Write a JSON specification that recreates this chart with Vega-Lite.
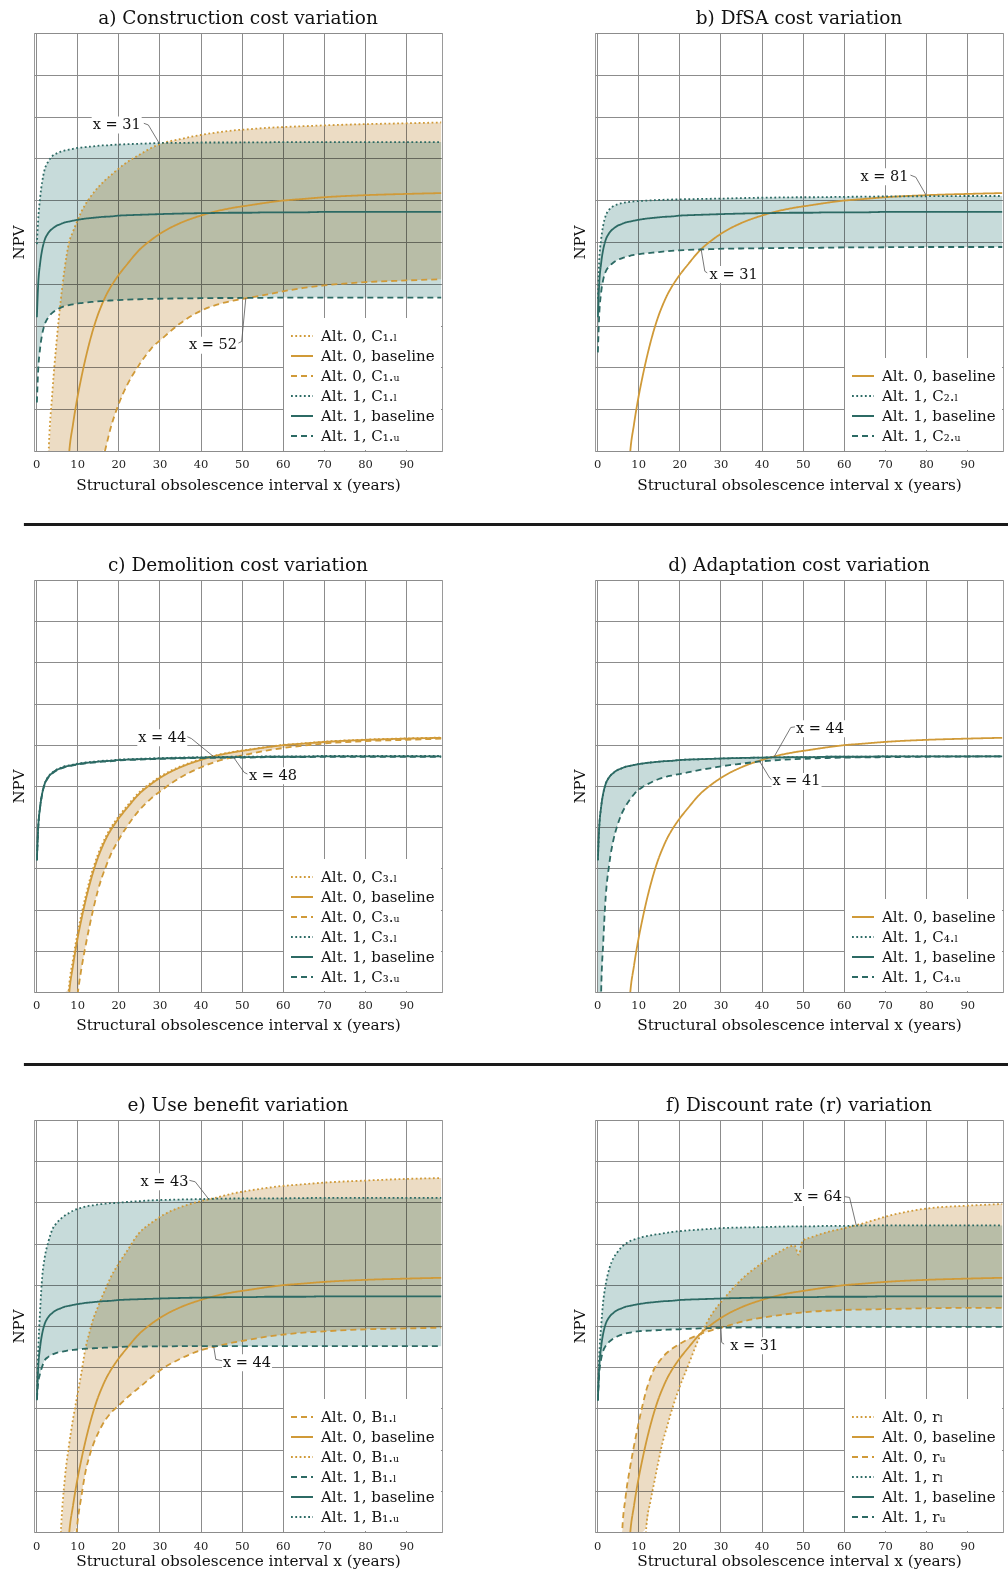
{
"$schema": "https://vega.github.io/schema/vega-lite/v6.json",
"padding": {"left": 10, "top": 8, "right": 0, "bottom": 0},
"background": "white",
"spacing": 29,
"config": {
 "font": "DejaVu Serif",
 "view": {"stroke": "#9a9a9a", "strokeWidth": 1},
 "title": {"font": "DejaVu Serif", "fontSize": 18.5, "fontWeight": "normal", "color": "#111", "offset": 6},
 "axis": {"labelFont": "DejaVu Serif", "titleFont": "DejaVu Serif", "titleFontWeight": "normal", "gridColor": "#8c8c8c", "gridWidth": 1, "domain": false, "ticks": false, "labelColor": "#222", "titleColor": "#111"},
 "axisX": {"labelFontSize": 11.5, "titleFontSize": 15.3, "labelFlush": false},
 "axisY": {"titleFontSize": 15, "titlePadding": 8},
 "legend": {"orient": "bottom-right", "offset": 1, "fillColor": "white", "padding": 6, "labelFont": "DejaVu Serif", "labelFontSize": 15, "labelColor": "#111", "symbolStrokeWidth": 2, "symbolSize": 484, "symbolType": "stroke", "rowPadding": -2, "labelOffset": 7, "labelLimit": 300}
},
"resolve": {"scale": {"color": "independent", "strokeDash": "independent"}},
"datasets": {
 "sep": [{"a": -0.0102, "b": 1.01}],
 "a": [
  {"x":0.2,"o1":-20,"o2":-40,"o3":-60,"t1":4.95,"t2":3.2,"t3":1.16},
  {"x":0.5,"o1":-16,"o2":-38,"o3":-55,"t1":5.5,"t2":3.95,"t3":1.9},
  {"x":1,"o1":-11,"o2":-35,"o3":-50,"t1":6.07,"t2":4.5,"t3":2.47},
  {"x":1.5,"o1":-7.5,"o2":-30,"o3":-45,"t1":6.45,"t2":4.82,"t3":2.8},
  {"x":2,"o1":-4.5,"o2":-25,"o3":-40,"t1":6.7,"t2":5.02,"t3":3.0},
  {"x":3,"o1":-0.2,"o2":-16,"o3":-32,"t1":6.93,"t2":5.22,"t3":3.2},
  {"x":4,"o1":1.45,"o2":-10,"o3":-25,"t1":7.06,"t2":5.32,"t3":3.31},
  {"x":5,"o1":2.63,"o2":-6.5,"o3":-20,"t1":7.12,"t2":5.39,"t3":3.38},
  {"x":6,"o1":3.6,"o2":-4,"o3":-15.5,"t1":7.16,"t2":5.43,"t3":3.43},
  {"x":7,"o1":4.4,"o2":-1.9,"o3":-12,"t1":7.19,"t2":5.47,"t3":3.47},
  {"x":8,"o1":4.98,"o2":-0.1,"o3":-9.5,"t1":7.21,"t2":5.49,"t3":3.49},
  {"x":9,"o1":5.25,"o2":0.65,"o3":-7.5,"t1":7.23,"t2":5.51,"t3":3.51},
  {"x":10,"o1":5.5,"o2":1.25,"o3":-5.8,"t1":7.25,"t2":5.53,"t3":3.53},
  {"x":11,"o1":5.72,"o2":1.75,"o3":-4.4,"t1":7.26,"t2":5.545,"t3":3.54},
  {"x":12,"o1":5.9,"o2":2.2,"o3":-3.2,"t1":7.27,"t2":5.56,"t3":3.55},
  {"x":13,"o1":6.05,"o2":2.6,"o3":-2.3,"t1":7.28,"t2":5.57,"t3":3.56},
  {"x":14,"o1":6.18,"o2":2.95,"o3":-1.5,"t1":7.29,"t2":5.58,"t3":3.57},
  {"x":15,"o1":6.3,"o2":3.25,"o3":-0.85,"t1":7.3,"t2":5.59,"t3":3.58},
  {"x":16,"o1":6.4,"o2":3.5,"o3":-0.3,"t1":7.31,"t2":5.6,"t3":3.585},
  {"x":17,"o1":6.5,"o2":3.72,"o3":0.1,"t1":7.31,"t2":5.605,"t3":3.59},
  {"x":18,"o1":6.58,"o2":3.9,"o3":0.5,"t1":7.32,"t2":5.61,"t3":3.6},
  {"x":20,"o1":6.75,"o2":4.2,"o3":1.1,"t1":7.33,"t2":5.63,"t3":3.61},
  {"x":22,"o1":6.9,"o2":4.45,"o3":1.55,"t1":7.34,"t2":5.64,"t3":3.62},
  {"x":25,"o1":7.08,"o2":4.8,"o3":2.05,"t1":7.35,"t2":5.65,"t3":3.63},
  {"x":28,"o1":7.25,"o2":5.05,"o3":2.45,"t1":7.36,"t2":5.66,"t3":3.64},
  {"x":31,"o1":7.37,"o2":5.25,"o3":2.72,"t1":7.37,"t2":5.67,"t3":3.645},
  {"x":35,"o1":7.46,"o2":5.45,"o3":3.05,"t1":7.37,"t2":5.68,"t3":3.65},
  {"x":40,"o1":7.56,"o2":5.63,"o3":3.35,"t1":7.38,"t2":5.69,"t3":3.655},
  {"x":44,"o1":7.62,"o2":5.74,"o3":3.5,"t1":7.38,"t2":5.695,"t3":3.66},
  {"x":48,"o1":7.67,"o2":5.82,"o3":3.6,"t1":7.38,"t2":5.7,"t3":3.66},
  {"x":52,"o1":7.7,"o2":5.88,"o3":3.67,"t1":7.385,"t2":5.7,"t3":3.665},
  {"x":56,"o1":7.73,"o2":5.94,"o3":3.74,"t1":7.385,"t2":5.71,"t3":3.665},
  {"x":60,"o1":7.75,"o2":5.99,"o3":3.82,"t1":7.39,"t2":5.71,"t3":3.67},
  {"x":65,"o1":7.77,"o2":6.03,"o3":3.9,"t1":7.39,"t2":5.71,"t3":3.67},
  {"x":70,"o1":7.79,"o2":6.07,"o3":3.96,"t1":7.39,"t2":5.72,"t3":3.67},
  {"x":80,"o1":7.82,"o2":6.12,"o3":4.04,"t1":7.39,"t2":5.72,"t3":3.67},
  {"x":90,"o1":7.84,"o2":6.15,"o3":4.08,"t1":7.39,"t2":5.72,"t3":3.67},
  {"x":98.5,"o1":7.86,"o2":6.17,"o3":4.11,"t1":7.39,"t2":5.72,"t3":3.67}
 ],
 "b": [
  {"x":0.2,"o2":-40,"t1":3.64,"t2":3.2,"t3":2.36},
  {"x":0.5,"o2":-38,"t1":4.5,"t2":3.95,"t3":3.2},
  {"x":1,"o2":-35,"t1":5.07,"t2":4.5,"t3":3.8},
  {"x":1.5,"o2":-30,"t1":5.4,"t2":4.82,"t3":4.1},
  {"x":2,"o2":-25,"t1":5.6,"t2":5.02,"t3":4.27},
  {"x":3,"o2":-16,"t1":5.78,"t2":5.22,"t3":4.42},
  {"x":4,"o2":-10,"t1":5.86,"t2":5.32,"t3":4.51},
  {"x":5,"o2":-6.5,"t1":5.9,"t2":5.39,"t3":4.57},
  {"x":6,"o2":-4,"t1":5.93,"t2":5.43,"t3":4.61},
  {"x":7,"o2":-1.9,"t1":5.95,"t2":5.47,"t3":4.64},
  {"x":8,"o2":-0.1,"t1":5.96,"t2":5.49,"t3":4.67},
  {"x":9,"o2":0.65,"t1":5.97,"t2":5.51,"t3":4.69},
  {"x":10,"o2":1.25,"t1":5.98,"t2":5.53,"t3":4.71},
  {"x":11,"o2":1.75,"t1":5.985,"t2":5.545,"t3":4.72},
  {"x":12,"o2":2.2,"t1":5.99,"t2":5.56,"t3":4.73},
  {"x":13,"o2":2.6,"t1":5.995,"t2":5.57,"t3":4.74},
  {"x":14,"o2":2.95,"t1":6.0,"t2":5.58,"t3":4.75},
  {"x":15,"o2":3.25,"t1":6.005,"t2":5.59,"t3":4.76},
  {"x":16,"o2":3.5,"t1":6.01,"t2":5.6,"t3":4.77},
  {"x":17,"o2":3.72,"t1":6.012,"t2":5.605,"t3":4.78},
  {"x":18,"o2":3.9,"t1":6.015,"t2":5.61,"t3":4.79},
  {"x":20,"o2":4.2,"t1":6.02,"t2":5.63,"t3":4.8},
  {"x":22,"o2":4.45,"t1":6.025,"t2":5.64,"t3":4.81},
  {"x":25,"o2":4.8,"t1":6.03,"t2":5.65,"t3":4.82},
  {"x":28,"o2":5.05,"t1":6.035,"t2":5.66,"t3":4.83},
  {"x":31,"o2":5.25,"t1":6.04,"t2":5.67,"t3":4.84},
  {"x":35,"o2":5.45,"t1":6.05,"t2":5.68,"t3":4.845},
  {"x":40,"o2":5.63,"t1":6.06,"t2":5.69,"t3":4.85},
  {"x":44,"o2":5.74,"t1":6.065,"t2":5.695,"t3":4.855},
  {"x":48,"o2":5.82,"t1":6.07,"t2":5.7,"t3":4.86},
  {"x":52,"o2":5.88,"t1":6.07,"t2":5.7,"t3":4.86},
  {"x":56,"o2":5.94,"t1":6.075,"t2":5.71,"t3":4.865},
  {"x":60,"o2":5.99,"t1":6.08,"t2":5.71,"t3":4.87},
  {"x":65,"o2":6.03,"t1":6.085,"t2":5.71,"t3":4.87},
  {"x":70,"o2":6.07,"t1":6.09,"t2":5.72,"t3":4.875},
  {"x":80,"o2":6.12,"t1":6.095,"t2":5.72,"t3":4.88},
  {"x":90,"o2":6.15,"t1":6.1,"t2":5.72,"t3":4.88},
  {"x":98.5,"o2":6.17,"t1":6.1,"t2":5.72,"t3":4.88}
 ],
 "c": [
  {"x":0.2,"o1":-39,"o2":-40,"o3":-60,"t1":3.21,"t2":3.2,"t3":3.19},
  {"x":0.5,"o1":-37,"o2":-38,"o3":-55,"t1":3.96,"t2":3.95,"t3":3.94},
  {"x":1,"o1":-34,"o2":-35,"o3":-50,"t1":4.51,"t2":4.5,"t3":4.49},
  {"x":1.5,"o1":-29,"o2":-30,"o3":-42,"t1":4.83,"t2":4.82,"t3":4.81},
  {"x":2,"o1":-24,"o2":-25,"o3":-36,"t1":5.03,"t2":5.02,"t3":5.01},
  {"x":3,"o1":-15,"o2":-16,"o3":-26,"t1":5.23,"t2":5.22,"t3":5.21},
  {"x":4,"o1":-9.5,"o2":-10,"o3":-18,"t1":5.33,"t2":5.32,"t3":5.31},
  {"x":5,"o1":-6,"o2":-6.5,"o3":-12,"t1":5.4,"t2":5.39,"t3":5.38},
  {"x":6,"o1":-3.6,"o2":-4,"o3":-8,"t1":5.44,"t2":5.43,"t3":5.42},
  {"x":7,"o1":-1.6,"o2":-1.9,"o3":-5,"t1":5.48,"t2":5.47,"t3":5.46},
  {"x":8,"o1":0.1,"o2":-0.1,"o3":-2.8,"t1":5.5,"t2":5.49,"t3":5.48},
  {"x":9,"o1":0.8,"o2":0.65,"o3":-1.2,"t1":5.52,"t2":5.51,"t3":5.5},
  {"x":10,"o1":1.38,"o2":1.25,"o3":-0.15,"t1":5.54,"t2":5.53,"t3":5.52},
  {"x":11,"o1":1.87,"o2":1.75,"o3":0.55,"t1":5.555,"t2":5.545,"t3":5.535},
  {"x":12,"o1":2.3,"o2":2.2,"o3":1.1,"t1":5.57,"t2":5.56,"t3":5.55},
  {"x":13,"o1":2.7,"o2":2.6,"o3":1.6,"t1":5.58,"t2":5.57,"t3":5.56},
  {"x":14,"o1":3.04,"o2":2.95,"o3":2.05,"t1":5.59,"t2":5.58,"t3":5.57},
  {"x":15,"o1":3.33,"o2":3.25,"o3":2.45,"t1":5.6,"t2":5.59,"t3":5.58},
  {"x":16,"o1":3.57,"o2":3.5,"o3":2.78,"t1":5.61,"t2":5.6,"t3":5.59},
  {"x":17,"o1":3.78,"o2":3.72,"o3":3.05,"t1":5.615,"t2":5.605,"t3":5.595},
  {"x":18,"o1":3.96,"o2":3.9,"o3":3.3,"t1":5.62,"t2":5.61,"t3":5.6},
  {"x":20,"o1":4.25,"o2":4.2,"o3":3.68,"t1":5.64,"t2":5.63,"t3":5.62},
  {"x":22,"o1":4.5,"o2":4.45,"o3":4.0,"t1":5.65,"t2":5.64,"t3":5.63},
  {"x":25,"o1":4.84,"o2":4.8,"o3":4.4,"t1":5.66,"t2":5.65,"t3":5.64},
  {"x":28,"o1":5.08,"o2":5.05,"o3":4.7,"t1":5.67,"t2":5.66,"t3":5.65},
  {"x":31,"o1":5.28,"o2":5.25,"o3":4.93,"t1":5.68,"t2":5.67,"t3":5.66},
  {"x":35,"o1":5.47,"o2":5.45,"o3":5.2,"t1":5.69,"t2":5.68,"t3":5.67},
  {"x":40,"o1":5.65,"o2":5.63,"o3":5.45,"t1":5.7,"t2":5.69,"t3":5.68},
  {"x":44,"o1":5.75,"o2":5.74,"o3":5.6,"t1":5.705,"t2":5.695,"t3":5.685},
  {"x":48,"o1":5.83,"o2":5.82,"o3":5.7,"t1":5.71,"t2":5.7,"t3":5.69},
  {"x":52,"o1":5.89,"o2":5.88,"o3":5.78,"t1":5.71,"t2":5.7,"t3":5.69},
  {"x":56,"o1":5.945,"o2":5.94,"o3":5.86,"t1":5.72,"t2":5.71,"t3":5.7},
  {"x":60,"o1":5.995,"o2":5.99,"o3":5.92,"t1":5.72,"t2":5.71,"t3":5.7},
  {"x":65,"o1":6.035,"o2":6.03,"o3":5.98,"t1":5.72,"t2":5.71,"t3":5.7},
  {"x":70,"o1":6.075,"o2":6.07,"o3":6.03,"t1":5.73,"t2":5.72,"t3":5.71},
  {"x":80,"o1":6.125,"o2":6.12,"o3":6.09,"t1":5.73,"t2":5.72,"t3":5.71},
  {"x":90,"o1":6.155,"o2":6.15,"o3":6.12,"t1":5.73,"t2":5.72,"t3":5.71},
  {"x":98.5,"o1":6.175,"o2":6.17,"o3":6.15,"t1":5.73,"t2":5.72,"t3":5.71}
 ],
 "d": [
  {"x":0.2,"o2":-40,"t1":3.2,"t2":3.2,"t3":-8},
  {"x":0.5,"o2":-38,"t1":3.95,"t2":3.95,"t3":-3.5},
  {"x":1,"o2":-35,"t1":4.5,"t2":4.5,"t3":0},
  {"x":1.5,"o2":-30,"t1":4.82,"t2":4.82,"t3":1.2},
  {"x":2,"o2":-25,"t1":5.02,"t2":5.02,"t3":2.16},
  {"x":3,"o2":-16,"t1":5.22,"t2":5.22,"t3":3.13},
  {"x":4,"o2":-10,"t1":5.32,"t2":5.32,"t3":3.7},
  {"x":5,"o2":-6.5,"t1":5.39,"t2":5.39,"t3":4.06},
  {"x":6,"o2":-4,"t1":5.43,"t2":5.43,"t3":4.33},
  {"x":7,"o2":-1.9,"t1":5.47,"t2":5.47,"t3":4.52},
  {"x":8,"o2":-0.1,"t1":5.49,"t2":5.49,"t3":4.67},
  {"x":9,"o2":0.65,"t1":5.51,"t2":5.51,"t3":4.8},
  {"x":10,"o2":1.25,"t1":5.53,"t2":5.53,"t3":4.9},
  {"x":11,"o2":1.75,"t1":5.545,"t2":5.545,"t3":4.97},
  {"x":12,"o2":2.2,"t1":5.56,"t2":5.56,"t3":5.03},
  {"x":13,"o2":2.6,"t1":5.57,"t2":5.57,"t3":5.08},
  {"x":14,"o2":2.95,"t1":5.58,"t2":5.58,"t3":5.13},
  {"x":15,"o2":3.25,"t1":5.59,"t2":5.59,"t3":5.17},
  {"x":16,"o2":3.5,"t1":5.6,"t2":5.6,"t3":5.2},
  {"x":17,"o2":3.72,"t1":5.605,"t2":5.605,"t3":5.23},
  {"x":18,"o2":3.9,"t1":5.61,"t2":5.61,"t3":5.25},
  {"x":20,"o2":4.2,"t1":5.63,"t2":5.63,"t3":5.29},
  {"x":22,"o2":4.45,"t1":5.64,"t2":5.64,"t3":5.33},
  {"x":25,"o2":4.8,"t1":5.65,"t2":5.65,"t3":5.39},
  {"x":28,"o2":5.05,"t1":5.66,"t2":5.66,"t3":5.44},
  {"x":31,"o2":5.25,"t1":5.67,"t2":5.67,"t3":5.49},
  {"x":35,"o2":5.45,"t1":5.68,"t2":5.68,"t3":5.54},
  {"x":40,"o2":5.63,"t1":5.69,"t2":5.69,"t3":5.6},
  {"x":44,"o2":5.74,"t1":5.695,"t2":5.695,"t3":5.63},
  {"x":48,"o2":5.82,"t1":5.7,"t2":5.7,"t3":5.65},
  {"x":52,"o2":5.88,"t1":5.7,"t2":5.7,"t3":5.665},
  {"x":56,"o2":5.94,"t1":5.71,"t2":5.71,"t3":5.68},
  {"x":60,"o2":5.99,"t1":5.71,"t2":5.71,"t3":5.69},
  {"x":65,"o2":6.03,"t1":5.71,"t2":5.71,"t3":5.695},
  {"x":70,"o2":6.07,"t1":5.72,"t2":5.72,"t3":5.7},
  {"x":80,"o2":6.12,"t1":5.72,"t2":5.72,"t3":5.71},
  {"x":90,"o2":6.15,"t1":5.72,"t2":5.72,"t3":5.715},
  {"x":98.5,"o2":6.17,"t1":5.72,"t2":5.72,"t3":5.72}
 ],
 "e": [
  {"x":0.2,"o1":-60,"o2":-40,"o3":-40,"t1":3.22,"t2":3.2,"t3":3.22},
  {"x":0.5,"o1":-55,"o2":-38,"o3":-36,"t1":3.6,"t2":3.95,"t3":4.3},
  {"x":1,"o1":-48,"o2":-35,"o3":-30,"t1":3.85,"t2":4.5,"t3":5.4},
  {"x":1.5,"o1":-42,"o2":-30,"o3":-25,"t1":4.02,"t2":4.82,"t3":6.2},
  {"x":2,"o1":-37,"o2":-25,"o3":-21,"t1":4.15,"t2":5.02,"t3":6.6},
  {"x":3,"o1":-28,"o2":-16,"o3":-13,"t1":4.25,"t2":5.22,"t3":7.05},
  {"x":4,"o1":-21,"o2":-10,"o3":-7.5,"t1":4.31,"t2":5.32,"t3":7.35},
  {"x":5,"o1":-15,"o2":-6.5,"o3":-3.3,"t1":4.35,"t2":5.39,"t3":7.5},
  {"x":6,"o1":-10.5,"o2":-4,"o3":-0.1,"t1":4.37,"t2":5.43,"t3":7.6},
  {"x":7,"o1":-6.8,"o2":-1.9,"o3":1.3,"t1":4.39,"t2":5.47,"t3":7.68},
  {"x":8,"o1":-3.8,"o2":-0.1,"o3":2.1,"t1":4.41,"t2":5.49,"t3":7.74},
  {"x":9,"o1":-1.3,"o2":0.65,"o3":2.75,"t1":4.42,"t2":5.51,"t3":7.8},
  {"x":10,"o1":0.15,"o2":1.25,"o3":3.3,"t1":4.43,"t2":5.53,"t3":7.84},
  {"x":11,"o1":0.85,"o2":1.75,"o3":3.85,"t1":4.44,"t2":5.545,"t3":7.87},
  {"x":12,"o1":1.45,"o2":2.2,"o3":4.45,"t1":4.45,"t2":5.56,"t3":7.9},
  {"x":13,"o1":1.85,"o2":2.6,"o3":4.85,"t1":4.455,"t2":5.57,"t3":7.92},
  {"x":14,"o1":2.15,"o2":2.95,"o3":5.2,"t1":4.46,"t2":5.58,"t3":7.93},
  {"x":15,"o1":2.38,"o2":3.25,"o3":5.45,"t1":4.465,"t2":5.59,"t3":7.95},
  {"x":16,"o1":2.58,"o2":3.5,"o3":5.7,"t1":4.47,"t2":5.6,"t3":7.96},
  {"x":17,"o1":2.74,"o2":3.72,"o3":5.92,"t1":4.475,"t2":5.605,"t3":7.97},
  {"x":18,"o1":2.87,"o2":3.9,"o3":6.15,"t1":4.48,"t2":5.61,"t3":7.98},
  {"x":20,"o1":3.06,"o2":4.2,"o3":6.5,"t1":4.49,"t2":5.63,"t3":7.99},
  {"x":22,"o1":3.25,"o2":4.45,"o3":6.8,"t1":4.5,"t2":5.64,"t3":8.01},
  {"x":25,"o1":3.5,"o2":4.8,"o3":7.25,"t1":4.5,"t2":5.65,"t3":8.03},
  {"x":28,"o1":3.75,"o2":5.05,"o3":7.5,"t1":4.505,"t2":5.66,"t3":8.05},
  {"x":31,"o1":3.98,"o2":5.25,"o3":7.7,"t1":4.505,"t2":5.67,"t3":8.06},
  {"x":35,"o1":4.2,"o2":5.45,"o3":7.88,"t1":4.51,"t2":5.68,"t3":8.07},
  {"x":40,"o1":4.41,"o2":5.63,"o3":8.03,"t1":4.51,"t2":5.69,"t3":8.08},
  {"x":44,"o1":4.51,"o2":5.74,"o3":8.12,"t1":4.51,"t2":5.695,"t3":8.09},
  {"x":48,"o1":4.6,"o2":5.82,"o3":8.22,"t1":4.51,"t2":5.7,"t3":8.095},
  {"x":52,"o1":4.67,"o2":5.88,"o3":8.29,"t1":4.51,"t2":5.7,"t3":8.1},
  {"x":56,"o1":4.74,"o2":5.94,"o3":8.35,"t1":4.51,"t2":5.71,"t3":8.1},
  {"x":60,"o1":4.79,"o2":5.99,"o3":8.4,"t1":4.51,"t2":5.71,"t3":8.1},
  {"x":65,"o1":4.84,"o2":6.03,"o3":8.44,"t1":4.51,"t2":5.71,"t3":8.105},
  {"x":70,"o1":4.87,"o2":6.07,"o3":8.48,"t1":4.51,"t2":5.72,"t3":8.11},
  {"x":80,"o1":4.92,"o2":6.12,"o3":8.53,"t1":4.51,"t2":5.72,"t3":8.11},
  {"x":90,"o1":4.94,"o2":6.15,"o3":8.57,"t1":4.51,"t2":5.72,"t3":8.11},
  {"x":98.5,"o1":4.96,"o2":6.17,"o3":8.59,"t1":4.51,"t2":5.72,"t3":8.11}
 ],
 "f": [
  {"x":0.2,"o1":-45,"o2":-40,"o3":-30,"t1":3.19,"t2":3.2,"t3":3.19},
  {"x":0.5,"o1":-42,"o2":-38,"o3":-27,"t1":4.2,"t2":3.95,"t3":3.8},
  {"x":1,"o1":-38,"o2":-35,"o3":-23,"t1":5.0,"t2":4.5,"t3":4.2},
  {"x":1.5,"o1":-35,"o2":-30,"o3":-20,"t1":5.6,"t2":4.82,"t3":4.4},
  {"x":2,"o1":-32,"o2":-25,"o3":-17,"t1":5.95,"t2":5.02,"t3":4.5},
  {"x":3,"o1":-26,"o2":-16,"o3":-11.5,"t1":6.4,"t2":5.22,"t3":4.62},
  {"x":4,"o1":-21,"o2":-10,"o3":-7,"t1":6.65,"t2":5.32,"t3":4.7},
  {"x":5,"o1":-17,"o2":-6.5,"o3":-3.5,"t1":6.8,"t2":5.39,"t3":4.75},
  {"x":6,"o1":-13.5,"o2":-4,"o3":-0.2,"t1":6.92,"t2":5.43,"t3":4.79},
  {"x":7,"o1":-10.5,"o2":-1.9,"o3":0.9,"t1":7.0,"t2":5.47,"t3":4.82},
  {"x":8,"o1":-8,"o2":-0.1,"o3":1.55,"t1":7.06,"t2":5.49,"t3":4.84},
  {"x":9,"o1":-5.8,"o2":0.65,"o3":2.1,"t1":7.1,"t2":5.51,"t3":4.86},
  {"x":10,"o1":-3.8,"o2":1.25,"o3":2.6,"t1":7.13,"t2":5.53,"t3":4.87},
  {"x":11,"o1":-1.8,"o2":1.75,"o3":3.05,"t1":7.16,"t2":5.545,"t3":4.88},
  {"x":12,"o1":0.15,"o2":2.2,"o3":3.45,"t1":7.18,"t2":5.56,"t3":4.885},
  {"x":13,"o1":0.75,"o2":2.6,"o3":3.75,"t1":7.2,"t2":5.57,"t3":4.89},
  {"x":14,"o1":1.25,"o2":2.95,"o3":3.98,"t1":7.22,"t2":5.58,"t3":4.895},
  {"x":15,"o1":1.75,"o2":3.25,"o3":4.12,"t1":7.23,"t2":5.59,"t3":4.9},
  {"x":16,"o1":2.2,"o2":3.5,"o3":4.25,"t1":7.25,"t2":5.6,"t3":4.905},
  {"x":17,"o1":2.55,"o2":3.72,"o3":4.35,"t1":7.26,"t2":5.605,"t3":4.91},
  {"x":18,"o1":2.9,"o2":3.9,"o3":4.43,"t1":7.28,"t2":5.61,"t3":4.915},
  {"x":20,"o1":3.5,"o2":4.2,"o3":4.56,"t1":7.3,"t2":5.63,"t3":4.92},
  {"x":22,"o1":4.0,"o2":4.45,"o3":4.67,"t1":7.32,"t2":5.64,"t3":4.93},
  {"x":25,"o1":4.75,"o2":4.8,"o3":4.8,"t1":7.34,"t2":5.65,"t3":4.94},
  {"x":28,"o1":5.3,"o2":5.05,"o3":4.9,"t1":7.36,"t2":5.66,"t3":4.95},
  {"x":31,"o1":5.68,"o2":5.25,"o3":4.98,"t1":7.38,"t2":5.67,"t3":4.96},
  {"x":35,"o1":6.12,"o2":5.45,"o3":5.1,"t1":7.39,"t2":5.68,"t3":4.965},
  {"x":40,"o1":6.52,"o2":5.63,"o3":5.2,"t1":7.4,"t2":5.69,"t3":4.97},
  {"x":44,"o1":6.78,"o2":5.74,"o3":5.26,"t1":7.41,"t2":5.695,"t3":4.97},
  {"x":48,"o1":6.95,"o2":5.82,"o3":5.31,"t1":7.42,"t2":5.7,"t3":4.97},
  {"x":49,"o1":6.73,"o2":5.835,"o3":5.32,"t1":7.42,"t2":5.7,"t3":4.97},
  {"x":50,"o1":7.07,"o2":5.85,"o3":5.33,"t1":7.42,"t2":5.7,"t3":4.975},
  {"x":52,"o1":7.15,"o2":5.88,"o3":5.35,"t1":7.42,"t2":5.7,"t3":4.975},
  {"x":56,"o1":7.28,"o2":5.94,"o3":5.37,"t1":7.43,"t2":5.71,"t3":4.975},
  {"x":60,"o1":7.37,"o2":5.99,"o3":5.39,"t1":7.43,"t2":5.71,"t3":4.98},
  {"x":65,"o1":7.5,"o2":6.03,"o3":5.4,"t1":7.44,"t2":5.71,"t3":4.98},
  {"x":70,"o1":7.65,"o2":6.07,"o3":5.41,"t1":7.44,"t2":5.72,"t3":4.98},
  {"x":80,"o1":7.85,"o2":6.12,"o3":5.43,"t1":7.44,"t2":5.72,"t3":4.98},
  {"x":90,"o1":7.92,"o2":6.15,"o3":5.44,"t1":7.44,"t2":5.72,"t3":4.98},
  {"x":98.5,"o1":7.96,"o2":6.17,"o3":5.44,"t1":7.44,"t2":5.72,"t3":4.98}
 ],
 "a_lab": [{"x":19.6,"y":7.8,"t":"x = 31"},{"x":43,"y":2.53,"t":"x = 52"}],
 "a_lead": [{"g":1,"i":0,"x":26.2,"y":7.84},{"g":1,"i":1,"x":27.3,"y":7.8},{"g":1,"i":2,"x":29.9,"y":7.37},{"g":2,"i":0,"x":49.2,"y":2.58},{"g":2,"i":1,"x":50,"y":2.62},{"g":2,"i":2,"x":51,"y":3.66}],
 "b_lab": [{"x":69.9,"y":6.56,"t":"x = 81"},{"x":33.2,"y":4.22,"t":"x = 31"}],
 "b_lead": [{"g":1,"i":0,"x":76.2,"y":6.6},{"g":1,"i":1,"x":77.5,"y":6.55},{"g":1,"i":2,"x":80,"y":6.12},{"g":2,"i":0,"x":26.8,"y":4.26},{"g":2,"i":1,"x":26.2,"y":4.3},{"g":2,"i":2,"x":25.3,"y":4.83}],
 "c_lab": [{"x":30.7,"y":6.17,"t":"x = 44"},{"x":57.6,"y":5.25,"t":"x = 48"}],
 "c_lead": [{"g":1,"i":0,"x":36.7,"y":6.2},{"g":1,"i":1,"x":37.8,"y":6.15},{"g":1,"i":2,"x":43.2,"y":5.71},{"g":2,"i":0,"x":51.4,"y":5.29},{"g":2,"i":1,"x":50.6,"y":5.33},{"g":2,"i":2,"x":48,"y":5.7}],
 "d_lab": [{"x":54.2,"y":6.39,"t":"x = 44"},{"x":48.5,"y":5.11,"t":"x = 41"}],
 "d_lead": [{"g":1,"i":0,"x":48.4,"y":6.44},{"g":1,"i":1,"x":47.1,"y":6.42},{"g":1,"i":2,"x":43,"y":5.7},{"g":2,"i":0,"x":42.7,"y":5.13},{"g":2,"i":1,"x":42,"y":5.19},{"g":2,"i":2,"x":39.4,"y":5.62}],
 "e_lab": [{"x":31.2,"y":8.5,"t":"x = 43"},{"x":51.3,"y":4.11,"t":"x = 44"}],
 "e_lead": [{"g":1,"i":0,"x":37.1,"y":8.54},{"g":1,"i":1,"x":38.7,"y":8.5},{"g":1,"i":2,"x":41.9,"y":8.09},{"g":2,"i":0,"x":45.6,"y":4.15},{"g":2,"i":1,"x":43.7,"y":4.19},{"g":2,"i":2,"x":43.2,"y":4.5}],
 "f_lab": [{"x":53.7,"y":8.12,"t":"x = 64"},{"x":38.2,"y":4.52,"t":"x = 31"}],
 "f_lead": [{"g":1,"i":0,"x":60.2,"y":8.14},{"g":1,"i":1,"x":61.4,"y":8.12},{"g":1,"i":2,"x":63,"y":7.45},{"g":2,"i":0,"x":30.9,"y":4.56},{"g":2,"i":1,"x":30.3,"y":4.6},{"g":2,"i":2,"x":30.1,"y":4.97}]
},
"vconcat": [
 {"hconcat": [
  {"width": 408, "height": 418, "title": "a) Construction cost variation", "data": {"name": "a"}, "resolve": {"scale": {"y": "independent"}},
   "encoding": {"x": {"field": "x", "type": "quantitative", "title": "Structural obsolescence interval x (years)", "scale": {"domain": [-0.5, 98.7], "nice": false, "zero": false}, "axis": {"values": [0,10,20,30,40,50,60,70,80,90], "labelPadding": 7, "titlePadding": 8}}},
   "layer": [
    {"mark": {"type": "area", "fill": "#c7dbda", "blend": "multiply", "interpolate": "monotone"}, "encoding": {"y": {"field": "t1", "type": "quantitative", "title": "NPV", "scale": {"domain": [0, 10], "nice": false, "zero": false, "clamp": true}, "axis": {"values": [0,1,2,3,4,5,6,7,8,9,10], "labels": false}}, "y2": {"field": "t3"}}},
    {"mark": {"type": "area", "fill": "#ecdcc4", "blend": "multiply", "interpolate": "monotone"}, "encoding": {"y": {"field": "o1", "type": "quantitative", "scale": {"domain": [0, 10], "nice": false, "zero": false, "clamp": true}, "axis": null}, "y2": {"field": "o3"}}},
    {"transform": [{"fold": ["o1","o2","o3","t1","t2","t3"], "as": ["s","v"]}], "mark": {"type": "line", "clip": true, "strokeWidth": 1.8, "interpolate": "monotone"},
     "encoding": {"y": {"field": "v", "type": "quantitative", "scale": {"domain": [0, 10], "nice": false, "zero": false}, "axis": null},
      "color": {"field": "s", "type": "nominal", "scale": {"domain": ["o1","o2","o3","t1","t2","t3"], "range": ["#d09a38","#d09a38","#d09a38","#2c6a64","#2c6a64","#2c6a64"]}, "legend": {"title": null, "labelExpr": "{'o1':'Alt. 0, C₁.ₗ','o2':'Alt. 0, baseline','o3':'Alt. 0, C₁.ᵤ','t1':'Alt. 1, C₁.ₗ','t2':'Alt. 1, baseline','t3':'Alt. 1, C₁.ᵤ'}[datum.value]"}},
      "strokeDash": {"field": "s", "type": "nominal", "scale": {"domain": ["o1","o2","o3","t1","t2","t3"], "range": [[1.8,2.5],[1,0],[6,4],[1.8,2.5],[1,0],[6,4]]}, "legend": {"title": null, "labelExpr": "{'o1':'Alt. 0, C₁.ₗ','o2':'Alt. 0, baseline','o3':'Alt. 0, C₁.ᵤ','t1':'Alt. 1, C₁.ₗ','t2':'Alt. 1, baseline','t3':'Alt. 1, C₁.ᵤ'}[datum.value]"}}}},
    {"data": {"name": "a_lead"}, "mark": {"type": "line", "color": "#555", "strokeWidth": 0.8}, "encoding": {"y": {"field": "y", "type": "quantitative", "scale": {"domain": [0, 10], "nice": false, "zero": false}, "axis": null}, "detail": {"field": "g"}, "order": {"field": "i"}}},
    {"data": {"name": "a_lab"}, "mark": {"type": "point", "shape": "M-1,-0.34H1V0.34H-1Z", "size": 2500, "filled": true, "fill": "white", "opacity": 1, "strokeWidth": 0}, "encoding": {"y": {"field": "y", "type": "quantitative", "scale": {"domain": [0, 10], "nice": false, "zero": false}, "axis": null}}},
    {"data": {"name": "a_lab"}, "mark": {"type": "text", "fontSize": 14.5, "color": "#111"}, "encoding": {"y": {"field": "y", "type": "quantitative", "scale": {"domain": [0, 10], "nice": false, "zero": false}, "axis": null}, "text": {"field": "t"}}}
   ]},
  {"width": 408, "height": 418, "title": "b) DfSA cost variation", "data": {"name": "b"}, "resolve": {"scale": {"y": "independent"}},
   "encoding": {"x": {"field": "x", "type": "quantitative", "title": "Structural obsolescence interval x (years)", "scale": {"domain": [-0.5, 98.7], "nice": false, "zero": false}, "axis": {"values": [0,10,20,30,40,50,60,70,80,90], "labelPadding": 7, "titlePadding": 8}}},
   "layer": [
    {"mark": {"type": "area", "fill": "#c7dbda", "blend": "multiply", "interpolate": "monotone"}, "encoding": {"y": {"field": "t1", "type": "quantitative", "title": "NPV", "scale": {"domain": [0, 10], "nice": false, "zero": false, "clamp": true}, "axis": {"values": [0,1,2,3,4,5,6,7,8,9,10], "labels": false}}, "y2": {"field": "t3"}}},
    {"transform": [{"fold": ["o2","t1","t2","t3"], "as": ["s","v"]}], "mark": {"type": "line", "clip": true, "strokeWidth": 1.8, "interpolate": "monotone"},
     "encoding": {"y": {"field": "v", "type": "quantitative", "scale": {"domain": [0, 10], "nice": false, "zero": false}, "axis": null},
      "color": {"field": "s", "type": "nominal", "scale": {"domain": ["o2","t1","t2","t3"], "range": ["#d09a38","#2c6a64","#2c6a64","#2c6a64"]}, "legend": {"title": null, "labelExpr": "{'o2':'Alt. 0, baseline','t1':'Alt. 1, C₂.ₗ','t2':'Alt. 1, baseline','t3':'Alt. 1, C₂.ᵤ'}[datum.value]"}},
      "strokeDash": {"field": "s", "type": "nominal", "scale": {"domain": ["o2","t1","t2","t3"], "range": [[1,0],[1.8,2.5],[1,0],[6,4]]}, "legend": {"title": null, "labelExpr": "{'o2':'Alt. 0, baseline','t1':'Alt. 1, C₂.ₗ','t2':'Alt. 1, baseline','t3':'Alt. 1, C₂.ᵤ'}[datum.value]"}}}},
    {"data": {"name": "b_lead"}, "mark": {"type": "line", "color": "#555", "strokeWidth": 0.8}, "encoding": {"y": {"field": "y", "type": "quantitative", "scale": {"domain": [0, 10], "nice": false, "zero": false}, "axis": null}, "detail": {"field": "g"}, "order": {"field": "i"}}},
    {"data": {"name": "b_lab"}, "mark": {"type": "point", "shape": "M-1,-0.34H1V0.34H-1Z", "size": 2500, "filled": true, "fill": "white", "opacity": 1, "strokeWidth": 0}, "encoding": {"y": {"field": "y", "type": "quantitative", "scale": {"domain": [0, 10], "nice": false, "zero": false}, "axis": null}}},
    {"data": {"name": "b_lab"}, "mark": {"type": "text", "fontSize": 14.5, "color": "#111"}, "encoding": {"y": {"field": "y", "type": "quantitative", "scale": {"domain": [0, 10], "nice": false, "zero": false}, "axis": null}, "text": {"field": "t"}}}
   ]}
 ], "spacing": 128, "resolve": {"scale": {"color": "independent", "strokeDash": "independent"}}},
 {"width": 990, "height": 3, "view": {"stroke": null}, "data": {"name": "sep"}, "mark": {"type": "rect", "clip": false, "color": "#1a1a1a"}, "encoding": {"x": {"field": "a", "type": "quantitative", "scale": {"domain": [0, 1]}, "axis": null}, "x2": {"field": "b"}}},
 {"hconcat": [
  {"width": 408, "height": 412, "title": "c) Demolition cost variation", "data": {"name": "c"}, "resolve": {"scale": {"y": "independent"}},
   "encoding": {"x": {"field": "x", "type": "quantitative", "title": "Structural obsolescence interval x (years)", "scale": {"domain": [-0.5, 98.7], "nice": false, "zero": false}, "axis": {"values": [0,10,20,30,40,50,60,70,80,90], "labelPadding": 7, "titlePadding": 7}}},
   "layer": [
    {"mark": {"type": "area", "fill": "#c7dbda", "blend": "multiply", "interpolate": "monotone"}, "encoding": {"y": {"field": "t1", "type": "quantitative", "title": "NPV", "scale": {"domain": [0, 10], "nice": false, "zero": false, "clamp": true}, "axis": {"values": [0,1,2,3,4,5,6,7,8,9,10], "labels": false}}, "y2": {"field": "t3"}}},
    {"mark": {"type": "area", "fill": "#ecdcc4", "blend": "multiply", "interpolate": "monotone"}, "encoding": {"y": {"field": "o1", "type": "quantitative", "scale": {"domain": [0, 10], "nice": false, "zero": false, "clamp": true}, "axis": null}, "y2": {"field": "o3"}}},
    {"transform": [{"fold": ["o1","o2","o3","t1","t2","t3"], "as": ["s","v"]}], "mark": {"type": "line", "clip": true, "strokeWidth": 1.8, "interpolate": "monotone"},
     "encoding": {"y": {"field": "v", "type": "quantitative", "scale": {"domain": [0, 10], "nice": false, "zero": false}, "axis": null},
      "color": {"field": "s", "type": "nominal", "scale": {"domain": ["o1","o2","o3","t1","t2","t3"], "range": ["#d09a38","#d09a38","#d09a38","#2c6a64","#2c6a64","#2c6a64"]}, "legend": {"title": null, "labelExpr": "{'o1':'Alt. 0, C₃.ₗ','o2':'Alt. 0, baseline','o3':'Alt. 0, C₃.ᵤ','t1':'Alt. 1, C₃.ₗ','t2':'Alt. 1, baseline','t3':'Alt. 1, C₃.ᵤ'}[datum.value]"}},
      "strokeDash": {"field": "s", "type": "nominal", "scale": {"domain": ["o1","o2","o3","t1","t2","t3"], "range": [[1.8,2.5],[1,0],[6,4],[1.8,2.5],[1,0],[6,4]]}, "legend": {"title": null, "labelExpr": "{'o1':'Alt. 0, C₃.ₗ','o2':'Alt. 0, baseline','o3':'Alt. 0, C₃.ᵤ','t1':'Alt. 1, C₃.ₗ','t2':'Alt. 1, baseline','t3':'Alt. 1, C₃.ᵤ'}[datum.value]"}}}},
    {"data": {"name": "c_lead"}, "mark": {"type": "line", "color": "#555", "strokeWidth": 0.8}, "encoding": {"y": {"field": "y", "type": "quantitative", "scale": {"domain": [0, 10], "nice": false, "zero": false}, "axis": null}, "detail": {"field": "g"}, "order": {"field": "i"}}},
    {"data": {"name": "c_lab"}, "mark": {"type": "point", "shape": "M-1,-0.34H1V0.34H-1Z", "size": 2500, "filled": true, "fill": "white", "opacity": 1, "strokeWidth": 0}, "encoding": {"y": {"field": "y", "type": "quantitative", "scale": {"domain": [0, 10], "nice": false, "zero": false}, "axis": null}}},
    {"data": {"name": "c_lab"}, "mark": {"type": "text", "fontSize": 14.5, "color": "#111"}, "encoding": {"y": {"field": "y", "type": "quantitative", "scale": {"domain": [0, 10], "nice": false, "zero": false}, "axis": null}, "text": {"field": "t"}}}
   ]},
  {"width": 408, "height": 412, "title": "d) Adaptation cost variation", "data": {"name": "d"}, "resolve": {"scale": {"y": "independent"}},
   "encoding": {"x": {"field": "x", "type": "quantitative", "title": "Structural obsolescence interval x (years)", "scale": {"domain": [-0.5, 98.7], "nice": false, "zero": false}, "axis": {"values": [0,10,20,30,40,50,60,70,80,90], "labelPadding": 7, "titlePadding": 7}}},
   "layer": [
    {"mark": {"type": "area", "fill": "#c7dbda", "blend": "multiply", "interpolate": "monotone"}, "encoding": {"y": {"field": "t1", "type": "quantitative", "title": "NPV", "scale": {"domain": [0, 10], "nice": false, "zero": false, "clamp": true}, "axis": {"values": [0,1,2,3,4,5,6,7,8,9,10], "labels": false}}, "y2": {"field": "t3"}}},
    {"transform": [{"fold": ["o2","t1","t2","t3"], "as": ["s","v"]}], "mark": {"type": "line", "clip": true, "strokeWidth": 1.8, "interpolate": "monotone"},
     "encoding": {"y": {"field": "v", "type": "quantitative", "scale": {"domain": [0, 10], "nice": false, "zero": false}, "axis": null},
      "color": {"field": "s", "type": "nominal", "scale": {"domain": ["o2","t1","t2","t3"], "range": ["#d09a38","#2c6a64","#2c6a64","#2c6a64"]}, "legend": {"title": null, "labelExpr": "{'o2':'Alt. 0, baseline','t1':'Alt. 1, C₄.ₗ','t2':'Alt. 1, baseline','t3':'Alt. 1, C₄.ᵤ'}[datum.value]"}},
      "strokeDash": {"field": "s", "type": "nominal", "scale": {"domain": ["o2","t1","t2","t3"], "range": [[1,0],[1.8,2.5],[1,0],[6,4]]}, "legend": {"title": null, "labelExpr": "{'o2':'Alt. 0, baseline','t1':'Alt. 1, C₄.ₗ','t2':'Alt. 1, baseline','t3':'Alt. 1, C₄.ᵤ'}[datum.value]"}}}},
    {"data": {"name": "d_lead"}, "mark": {"type": "line", "color": "#555", "strokeWidth": 0.8}, "encoding": {"y": {"field": "y", "type": "quantitative", "scale": {"domain": [0, 10], "nice": false, "zero": false}, "axis": null}, "detail": {"field": "g"}, "order": {"field": "i"}}},
    {"data": {"name": "d_lab"}, "mark": {"type": "point", "shape": "M-1,-0.34H1V0.34H-1Z", "size": 2500, "filled": true, "fill": "white", "opacity": 1, "strokeWidth": 0}, "encoding": {"y": {"field": "y", "type": "quantitative", "scale": {"domain": [0, 10], "nice": false, "zero": false}, "axis": null}}},
    {"data": {"name": "d_lab"}, "mark": {"type": "text", "fontSize": 14.5, "color": "#111"}, "encoding": {"y": {"field": "y", "type": "quantitative", "scale": {"domain": [0, 10], "nice": false, "zero": false}, "axis": null}, "text": {"field": "t"}}}
   ]}
 ], "spacing": 128, "resolve": {"scale": {"color": "independent", "strokeDash": "independent"}}},
 {"width": 990, "height": 3, "view": {"stroke": null}, "data": {"name": "sep"}, "mark": {"type": "rect", "clip": false, "color": "#1a1a1a"}, "encoding": {"x": {"field": "a", "type": "quantitative", "scale": {"domain": [0, 1]}, "axis": null}, "x2": {"field": "b"}}},
 {"hconcat": [
  {"width": 408, "height": 412, "title": "e) Use benefit variation", "data": {"name": "e"}, "resolve": {"scale": {"y": "independent"}},
   "encoding": {"x": {"field": "x", "type": "quantitative", "title": "Structural obsolescence interval x (years)", "scale": {"domain": [-0.5, 98.7], "nice": false, "zero": false}, "axis": {"values": [0,10,20,30,40,50,60,70,80,90], "labelPadding": 8, "titlePadding": 2}}},
   "layer": [
    {"mark": {"type": "area", "fill": "#c7dbda", "blend": "multiply", "interpolate": "monotone"}, "encoding": {"y": {"field": "t1", "type": "quantitative", "title": "NPV", "scale": {"domain": [0, 10], "nice": false, "zero": false, "clamp": true}, "axis": {"values": [0,1,2,3,4,5,6,7,8,9,10], "labels": false}}, "y2": {"field": "t3"}}},
    {"mark": {"type": "area", "fill": "#ecdcc4", "blend": "multiply", "interpolate": "monotone"}, "encoding": {"y": {"field": "o1", "type": "quantitative", "scale": {"domain": [0, 10], "nice": false, "zero": false, "clamp": true}, "axis": null}, "y2": {"field": "o3"}}},
    {"transform": [{"fold": ["o1","o2","o3","t1","t2","t3"], "as": ["s","v"]}], "mark": {"type": "line", "clip": true, "strokeWidth": 1.8, "interpolate": "monotone"},
     "encoding": {"y": {"field": "v", "type": "quantitative", "scale": {"domain": [0, 10], "nice": false, "zero": false}, "axis": null},
      "color": {"field": "s", "type": "nominal", "scale": {"domain": ["o1","o2","o3","t1","t2","t3"], "range": ["#d09a38","#d09a38","#d09a38","#2c6a64","#2c6a64","#2c6a64"]}, "legend": {"title": null, "labelExpr": "{'o1':'Alt. 0, B₁.ₗ','o2':'Alt. 0, baseline','o3':'Alt. 0, B₁.ᵤ','t1':'Alt. 1, B₁.ₗ','t2':'Alt. 1, baseline','t3':'Alt. 1, B₁.ᵤ'}[datum.value]"}},
      "strokeDash": {"field": "s", "type": "nominal", "scale": {"domain": ["o1","o2","o3","t1","t2","t3"], "range": [[6,4],[1,0],[1.8,2.5],[6,4],[1,0],[1.8,2.5]]}, "legend": {"title": null, "labelExpr": "{'o1':'Alt. 0, B₁.ₗ','o2':'Alt. 0, baseline','o3':'Alt. 0, B₁.ᵤ','t1':'Alt. 1, B₁.ₗ','t2':'Alt. 1, baseline','t3':'Alt. 1, B₁.ᵤ'}[datum.value]"}}}},
    {"data": {"name": "e_lead"}, "mark": {"type": "line", "color": "#555", "strokeWidth": 0.8}, "encoding": {"y": {"field": "y", "type": "quantitative", "scale": {"domain": [0, 10], "nice": false, "zero": false}, "axis": null}, "detail": {"field": "g"}, "order": {"field": "i"}}},
    {"data": {"name": "e_lab"}, "mark": {"type": "point", "shape": "M-1,-0.34H1V0.34H-1Z", "size": 2500, "filled": true, "fill": "white", "opacity": 1, "strokeWidth": 0}, "encoding": {"y": {"field": "y", "type": "quantitative", "scale": {"domain": [0, 10], "nice": false, "zero": false}, "axis": null}}},
    {"data": {"name": "e_lab"}, "mark": {"type": "text", "fontSize": 14.5, "color": "#111"}, "encoding": {"y": {"field": "y", "type": "quantitative", "scale": {"domain": [0, 10], "nice": false, "zero": false}, "axis": null}, "text": {"field": "t"}}}
   ]},
  {"width": 408, "height": 412, "title": "f) Discount rate (r) variation", "data": {"name": "f"}, "resolve": {"scale": {"y": "independent"}},
   "encoding": {"x": {"field": "x", "type": "quantitative", "title": "Structural obsolescence interval x (years)", "scale": {"domain": [-0.5, 98.7], "nice": false, "zero": false}, "axis": {"values": [0,10,20,30,40,50,60,70,80,90], "labelPadding": 8, "titlePadding": 2}}},
   "layer": [
    {"mark": {"type": "area", "fill": "#c7dbda", "blend": "multiply", "interpolate": "monotone"}, "encoding": {"y": {"field": "t1", "type": "quantitative", "title": "NPV", "scale": {"domain": [0, 10], "nice": false, "zero": false, "clamp": true}, "axis": {"values": [0,1,2,3,4,5,6,7,8,9,10], "labels": false}}, "y2": {"field": "t3"}}},
    {"mark": {"type": "area", "fill": "#ecdcc4", "blend": "multiply", "interpolate": "monotone"}, "encoding": {"y": {"field": "o1", "type": "quantitative", "scale": {"domain": [0, 10], "nice": false, "zero": false, "clamp": true}, "axis": null}, "y2": {"field": "o3"}}},
    {"transform": [{"fold": ["o1","o2","o3","t1","t2","t3"], "as": ["s","v"]}], "mark": {"type": "line", "clip": true, "strokeWidth": 1.8, "interpolate": "monotone"},
     "encoding": {"y": {"field": "v", "type": "quantitative", "scale": {"domain": [0, 10], "nice": false, "zero": false}, "axis": null},
      "color": {"field": "s", "type": "nominal", "scale": {"domain": ["o1","o2","o3","t1","t2","t3"], "range": ["#d09a38","#d09a38","#d09a38","#2c6a64","#2c6a64","#2c6a64"]}, "legend": {"title": null, "labelExpr": "{'o1':'Alt. 0, rₗ','o2':'Alt. 0, baseline','o3':'Alt. 0, rᵤ','t1':'Alt. 1, rₗ','t2':'Alt. 1, baseline','t3':'Alt. 1, rᵤ'}[datum.value]"}},
      "strokeDash": {"field": "s", "type": "nominal", "scale": {"domain": ["o1","o2","o3","t1","t2","t3"], "range": [[1.8,2.5],[1,0],[6,4],[1.8,2.5],[1,0],[6,4]]}, "legend": {"title": null, "labelExpr": "{'o1':'Alt. 0, rₗ','o2':'Alt. 0, baseline','o3':'Alt. 0, rᵤ','t1':'Alt. 1, rₗ','t2':'Alt. 1, baseline','t3':'Alt. 1, rᵤ'}[datum.value]"}}}},
    {"data": {"name": "f_lead"}, "mark": {"type": "line", "color": "#555", "strokeWidth": 0.8}, "encoding": {"y": {"field": "y", "type": "quantitative", "scale": {"domain": [0, 10], "nice": false, "zero": false}, "axis": null}, "detail": {"field": "g"}, "order": {"field": "i"}}},
    {"data": {"name": "f_lab"}, "mark": {"type": "point", "shape": "M-1,-0.34H1V0.34H-1Z", "size": 2500, "filled": true, "fill": "white", "opacity": 1, "strokeWidth": 0}, "encoding": {"y": {"field": "y", "type": "quantitative", "scale": {"domain": [0, 10], "nice": false, "zero": false}, "axis": null}}},
    {"data": {"name": "f_lab"}, "mark": {"type": "text", "fontSize": 14.5, "color": "#111"}, "encoding": {"y": {"field": "y", "type": "quantitative", "scale": {"domain": [0, 10], "nice": false, "zero": false}, "axis": null}, "text": {"field": "t"}}}
   ]}
 ], "spacing": 128, "resolve": {"scale": {"color": "independent", "strokeDash": "independent"}}}
]
}
